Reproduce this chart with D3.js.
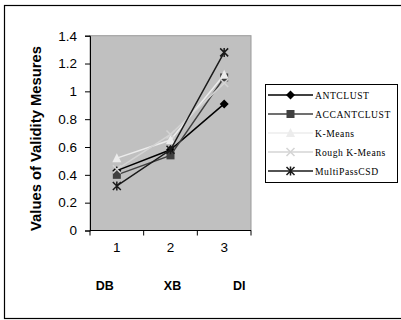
<!DOCTYPE html>
<html><head><meta charset="utf-8">
<script src="https://cdn.jsdelivr.net/npm/d3@7"></script>
<style>body{margin:0;background:#fff}svg{display:block}</style>
</head><body>
<svg id="c" width="401" height="320"></svg>
<script>
const categories = ["1", "2", "3"];
const measureNames = ["DB", "XB", "DI"];
const seriesNames = ["ANTCLUST", "ACCANTCLUST", "K-Means", "Rough K-Means", "MultiPassCSD"];
const antclust = [0.43, 0.58, 0.91];
const accantclust = [0.40, 0.54, 1.10];
const kmeans = [0.52, 0.65, 1.12];
const roughKmeans = [0.44, 0.69, 1.06];
const multiPass = [0.32, 0.58, 1.28];
const yTicks = [0, 0.2, 0.4, 0.6, 0.8, 1, 1.2, 1.4];

const seriesValues = [antclust, accantclust, kmeans, roughKmeans, multiPass];
const colors = ["#000000", "#404040", "#ececec", "#d4d4d4", "#1a1a1a"];
const markers = ["diamond", "square", "triangle", "x", "star"];

const svg = d3.select("#c");
svg.append("rect").attr("x", 4.5).attr("y", 5.5).attr("width", 420).attr("height", 313)
  .attr("fill", "none").attr("stroke", "#000").attr("stroke-width", 1.2);

const L = 90, R = 251, T = 35.7, B = 230.5;
const x = d3.scaleBand().domain(categories).range([L, R]);
const y = d3.scaleLinear().domain([0, 1.4]).range([B, T]);

svg.append("rect").attr("x", L).attr("y", T).attr("width", R - L).attr("height", B - T)
  .attr("fill", "#c0c0c0").attr("stroke", "#9a9a9a").attr("stroke-width", 1);

const yAxis = svg.append("g").attr("transform", `translate(${L},0)`)
  .call(d3.axisLeft(y).tickValues(yTicks).tickSize(5).tickPadding(8).tickFormat(d => String(d)));
const xAxis = svg.append("g").attr("transform", `translate(0,${B})`)
  .call(d3.axisBottom(x).tickSize(0).tickPadding(12));
svg.append("g").selectAll("line").data([...categories.map(c => x(c)), R]).join("line")
  .attr("x1", d => d).attr("x2", d => d).attr("y1", B).attr("y2", B + 5).attr("stroke", "#000");
[yAxis, xAxis].forEach(g => {
  g.selectAll("path.domain").attr("stroke", "#000");
  g.selectAll("line").attr("stroke", "#000");
  g.selectAll("text").attr("font-family", "Liberation Sans, Arial, sans-serif").attr("font-size", 13.5).attr("fill", "#000");
});
xAxis.select("path.domain").attr("d", `M${L},0H${R}`);

svg.append("g").selectAll("text").data(measureNames).join("text")
  .attr("x", (d, i) => x(categories[i]) + x.bandwidth() / 2 + [-12, 2, 15][i])
  .attr("y", 290).attr("text-anchor", "middle")
  .attr("font-family", "Liberation Sans, Arial, sans-serif").attr("font-weight", "bold").attr("font-size", 12.5)
  .text(d => d);

svg.append("text").attr("transform", `translate(41,${(35 + 242) / 2}) rotate(-90)`)
  .attr("text-anchor", "middle").attr("font-family", "Liberation Sans, Arial, sans-serif")
  .attr("font-weight", "bold").attr("font-size", 14.8).text("Values of Validity Mesures");

function drawMarker(g, type, color, cx, cy) {
  if (type === "diamond") {
    g.append("path").attr("d", `M${cx},${cy-4.5}L${cx+4.5},${cy}L${cx},${cy+4.5}L${cx-4.5},${cy}Z`).attr("fill", color);
  } else if (type === "square") {
    g.append("rect").attr("x", cx - 4).attr("y", cy - 4).attr("width", 8).attr("height", 8).attr("fill", color);
  } else if (type === "triangle") {
    g.append("path").attr("d", `M${cx},${cy-5}L${cx+4.5},${cy+4}L${cx-4.5},${cy+4}Z`).attr("fill", color);
  } else if (type === "x") {
    g.append("path").attr("d", `M${cx-4},${cy-4}L${cx+4},${cy+4}M${cx+4},${cy-4}L${cx-4},${cy+4}`).attr("stroke", color).attr("stroke-width", 1.5);
  } else {
    g.append("path").attr("d", `M${cx-4},${cy-4}L${cx+4},${cy+4}M${cx+4},${cy-4}L${cx-4},${cy+4}M${cx},${cy-4.5}L${cx},${cy+4.5}`).attr("stroke", color).attr("stroke-width", 1.5);
  }
}

const line = d3.line().x((d, i) => x(categories[i]) + x.bandwidth() / 2).y(d => y(d));
seriesValues.forEach((vals, s) => {
  const g = svg.append("g");
  g.append("path").datum(vals).attr("d", line).attr("fill", "none").attr("stroke", colors[s]).attr("stroke-width", 1.5);
  vals.forEach((v, i) => drawMarker(g, markers[s], colors[s], x(categories[i]) + x.bandwidth() / 2, y(v)));
});

const lg = svg.append("g");
lg.append("rect").attr("x", 265.5).attr("y", 84.5).attr("width", 132).attr("height", 98)
  .attr("fill", "#fff").attr("stroke", "#000").attr("stroke-width", 1);
seriesNames.forEach((n, s) => {
  const yy = 95 + s * 19;
  lg.append("line").attr("x1", 268).attr("x2", 313).attr("y1", yy).attr("y2", yy).attr("stroke", colors[s]).attr("stroke-width", 1.5);
  drawMarker(lg, markers[s], colors[s], 290.5, yy);
  lg.append("text").attr("x", 315).attr("y", yy + 3.5).attr("font-family", "Liberation Serif, Times New Roman, serif")
    .attr("font-size", 9.6).attr("letter-spacing", 0.55).text(n);
});
</script>
</body></html>
